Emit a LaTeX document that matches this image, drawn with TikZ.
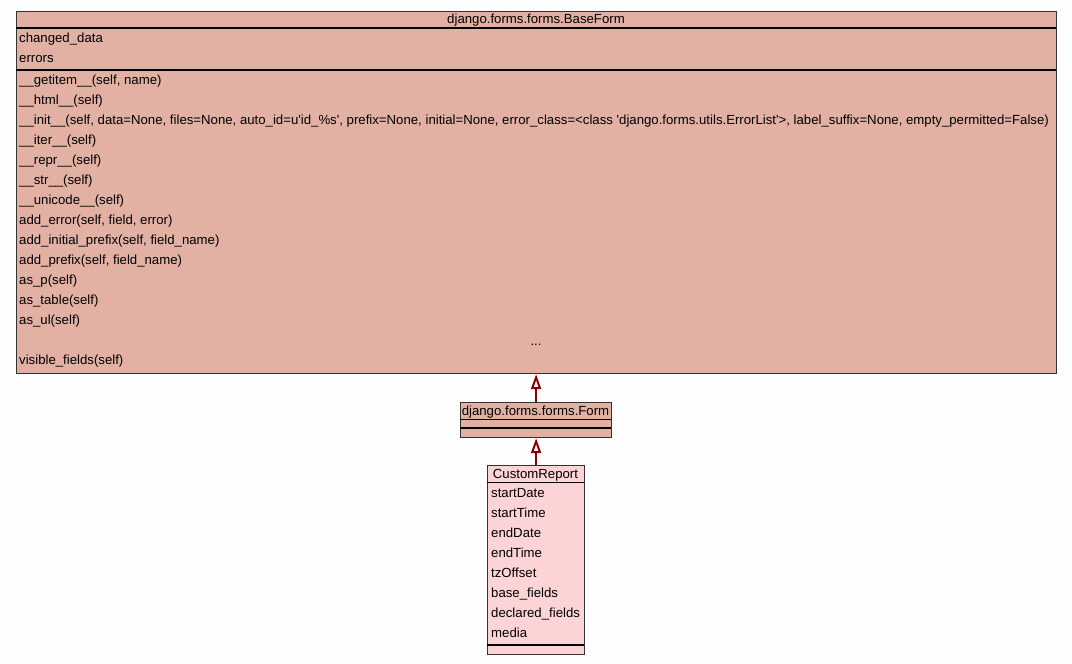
\documentclass[tikz,border=0pt]{standalone}
\usepackage{fontspec}
\setmainfont{Liberation Sans}
\usetikzlibrary{arrows.meta}
\definecolor{formfill}{RGB}{226,177,164}
\definecolor{reportfill}{RGB}{252,212,213}
\definecolor{darkred}{RGB}{139,0,0}
\definecolor{bgcolor}{RGB}{253,254,253}
\def\q{\textquotesingle}

\begin{document}
\begin{tikzpicture}[x=1pt,y=-1pt,
  >={Triangle[open,length=15pt,width=10pt,line width=2pt]},
  every node/.style={font=\fontsize{13.2}{15}\selectfont,inner sep=0pt,anchor=base},
  classbox/.style={draw=black!80,line width=1.2pt,anchor=north west},
  member/.style={anchor=base west},
  inherit/.style={->,draw=darkred,line width=2.6pt}]
\fill[bgcolor] (0,0) rectangle (1072,664);
\useasboundingbox (0,0) rectangle (1072,664);

% base class
\node[classbox,fill=formfill,minimum width=1040pt,minimum height=362pt] (baseform) at (16,11) {};
\node (baseform title) at (536,23.5) {django.forms.forms.BaseForm};
\draw[line width=1.2pt] (16,28) -- (1056,28);
\draw[line width=1.2pt] (16,70) -- (1056,70);
\foreach \y/\t in {38/changed\_data,58/errors}
  \node[member] at (19,\y+4.5) {\t};
\foreach \t [count=\i] in {{\_\_getitem\_\_(self, name)},\_\_html\_\_(self),
  {\_\_init\_\_(self, data=None, files=None, auto\_id=u\q id\_\%s\q, prefix=None, initial=None, error\_class=<class \q django.forms.utils.ErrorList\q>, label\_suffix=None, empty\_permitted=False)},
  \_\_iter\_\_(self),\_\_repr\_\_(self),\_\_str\_\_(self),\_\_unicode\_\_(self),
  {add\_error(self, field, error)},{add\_initial\_prefix(self, field\_name)},
  {add\_prefix(self, field\_name)},as\_p(self),as\_table(self),as\_ul(self)}
  \node[member] at (19,{64.5+\i*20}) {\t};
\node at (536,345.5) {...};
\node[member] at (19,364.5) {visible\_fields(self)};

% django form
\node[classbox,fill=formfill,minimum width=151pt,minimum height=35pt] (form) at (460,402) {};
\node (form title) at (535.5,415) {django.forms.forms.Form};
\draw[line width=1.2pt] (460,419.5) -- (611,419.5);
\draw[line width=1.2pt] (460,428) -- (611,428);

% report form
\node[classbox,fill=reportfill,minimum width=97pt,minimum height=189pt] (report) at (487,465) {};
\node (report title) at (535.5,478) {CustomReport};
\draw[line width=1.2pt] (487,482.5) -- (584,482.5);
\foreach \t [count=\i] in {startDate,startTime,endDate,endTime,tzOffset,base\_fields,declared\_fields,media}
  \node[member] at (491,{477.5+\i*20}) {\t};
\draw[line width=1.2pt] (487,645) -- (584,645);

\draw[inherit] (form.north) -- (form.north |- baseform.south);
\draw[inherit] (report.north) -- (form.south);
\end{tikzpicture}
\end{document}
